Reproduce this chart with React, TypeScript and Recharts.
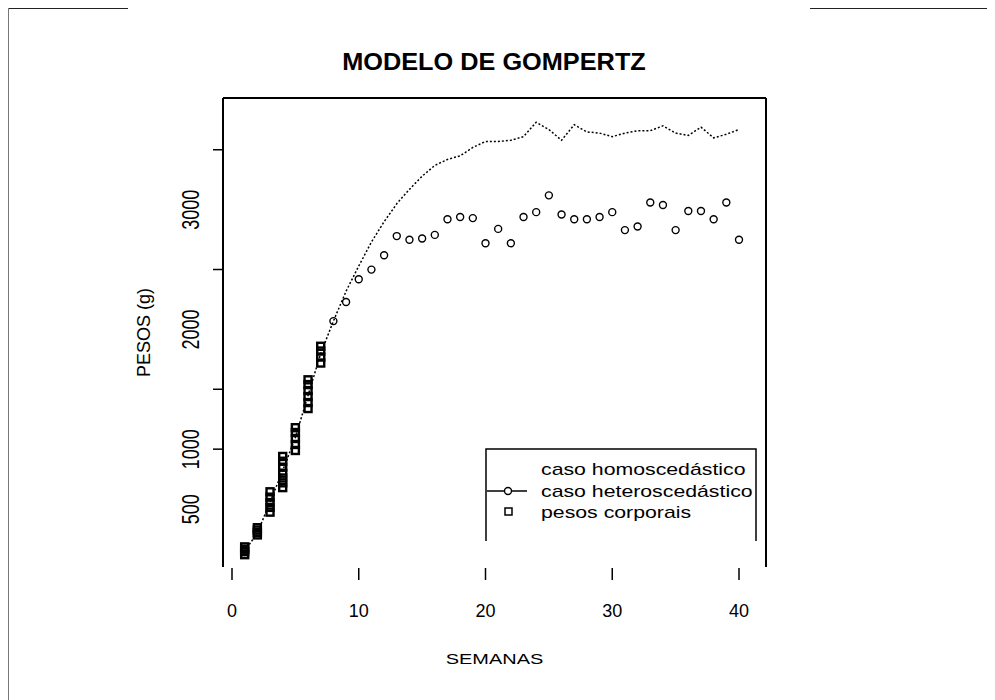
import { ComposedChart, Line, Scatter, XAxis, YAxis, ReferenceLine, Legend } from "recharts";

// semanas 1..40 e pesos (g)
const WEEKS = [1, 2, 3, 4, 5, 6, 7, 8, 9, 10, 11, 12, 13, 14, 15, 16, 17, 18, 19, 20,
  21, 22, 23, 24, 25, 26, 27, 28, 29, 30, 31, 32, 33, 34, 35, 36, 37, 38, 39, 40];
const HOMO_WEIGHTS = [150, 300, 560, 820, 1100, 1450, 1800, 2070, 2320, 2530, 2730, 2900, 3050, 3170, 3280, 3370, 3420, 3450, 3520, 3570,
  3570, 3580, 3610, 3730, 3670, 3580, 3710, 3650, 3640, 3610, 3640, 3660, 3660, 3700, 3640, 3620, 3690, 3600, 3630, 3670];

const HETERO_WEEKS = [8, 9, 10, 11, 12, 13, 14, 15, 16, 17, 18, 19, 20, 21, 22, 23, 24,
  25, 26, 27, 28, 29, 30, 31, 32, 33, 34, 35, 36, 37, 38, 39, 40];
const HETERO_WEIGHTS = [2070, 2230, 2420, 2500, 2620, 2780, 2750, 2760, 2790, 2920, 2940, 2930, 2720, 2840, 2720, 2940, 2980,
  3120, 2960, 2920, 2920, 2940, 2980, 2830, 2860, 3060, 3040, 2830, 2990, 2990, 2920, 3060, 2750];

const BODY_WEEKS = [1, 1, 1, 1, 2, 2, 2, 2, 3, 3, 3, 3, 3, 4, 4, 4, 4, 4, 4, 4,
  5, 5, 5, 5, 5, 6, 6, 6, 6, 6, 6, 7, 7, 7, 7];
const BODY_WEIGHTS = [120, 145, 165, 185, 285, 305, 325, 345, 475, 515, 555, 600, 645, 680, 720, 760, 800, 850, 900, 940,
  990, 1040, 1090, 1140, 1180, 1340, 1390, 1440, 1490, 1540, 1580, 1720, 1770, 1820, 1860];

const X_TICKS = [0, 10, 20, 30, 40];
const Y_TICKS = [500, 1000, 2000, 3000];
const X_DOMAIN: [number, number] = [-0.71, 42.13];
const Y_DOMAIN: [number, number] = [17, 3933];

const TITLE = "MODELO DE GOMPERTZ";
const X_LABEL = "SEMANAS";
const Y_LABEL = "PESOS (g)";
const LEGEND_LABELS = ["caso homoscedástico", "caso heteroscedástico", "pesos corporais"];

const FONT = "'Liberation Sans', Arial, sans-serif";

const homoData = WEEKS.map((w, i) => ({ x: w, y: HOMO_WEIGHTS[i] }));
const heteroData = HETERO_WEEKS.map((w, i) => ({ x: w, y: HETERO_WEIGHTS[i] }));
const bodyData = BODY_WEEKS.map((w, i) => ({ x: w, y: BODY_WEIGHTS[i] }));

const XTick = (props: any) => {
  const { x, y, payload } = props;
  return (
    <g>
      <line x1={x} x2={x} y1={y + 1} y2={y + 13} stroke="#000" strokeWidth={1.5} />
      <text x={x} y={y + 50} textAnchor="middle" fontSize={18} fontFamily={FONT} fill="#000">
        {payload.value}
      </text>
    </g>
  );
};

// no original as marcas ficam ~60px acima dos rótulos
const YTick = (props: any) => {
  const { x, y, payload } = props;
  return (
    <g>
      <line x1={x - 10} x2={x} y1={y - 60} y2={y - 60} stroke="#000" strokeWidth={1.5} />
      <text
        transform={`translate(${x - 24},${y}) scale(1.3,1) rotate(-90)`}
        textAnchor="middle"
        fontSize={18}
        fontFamily={FONT}
        fill="#000"
      >
        {payload.value}
      </text>
    </g>
  );
};

const Square = (props: any) => (
  <rect x={props.cx - 3.5} y={props.cy - 3.5} width={7} height={7} fill="none" stroke="#000" strokeWidth={2.4} />
);
const Circle = (props: any) => (
  <circle cx={props.cx} cy={props.cy} r={3.5} fill="none" stroke="#000" strokeWidth={1.4} />
);

const LegendBox = () => (
  <svg width={272} height={95} style={{ display: "block", overflow: "visible" }}>
    <polyline points="1,93 1,1 271,1 271,93" fill="none" stroke="#000" strokeWidth={1.5} />
    <line x1={2} x2={42} y1={43} y2={43} stroke="#000" strokeWidth={1.5} />
    <circle cx={23} cy={43} r={3.5} fill="#fff" stroke="#000" strokeWidth={1.4} />
    <rect x={20} y={60} width={7} height={7} fill="none" stroke="#000" strokeWidth={1.5} />
    {LEGEND_LABELS.map((t, i) => (
      <text
        key={t}
        transform={`translate(56,${27 + i * 21.5}) scale(1.33,1)`}
        fontSize={16}
        fontFamily={FONT}
        fill="#000"
      >
        {t}
      </text>
    ))}
  </svg>
);

export default function App() {
  return (
    <div style={{ position: "relative", width: 987, height: 693, marginTop: -1, background: "#fff" }}>
      <div
        style={{
          position: "absolute",
          left: 486,
          top: 41,
          transform: "translateX(-50%) scaleX(1.1)",
          fontFamily: FONT,
          fontWeight: "bold",
          fontSize: 23,
          lineHeight: "28px",
          whiteSpace: "nowrap",
          color: "#000",
        }}
      >
        {TITLE}
      </div>
      <ComposedChart width={987} height={693} margin={{ top: 91, right: 229, bottom: 132, left: 214 }}>
        <XAxis
          dataKey="x"
          type="number"
          domain={X_DOMAIN}
          ticks={X_TICKS}
          interval={0}
          allowDataOverflow
          axisLine={false}
          tickLine={false}
          tickSize={0}
          tickMargin={0}
          height={1}
          tick={XTick}
          label={{
            content: (p: any) => (
              <text
                transform={`translate(${p.viewBox.x + p.viewBox.width / 2},${p.viewBox.y + 97}) scale(1.33,1)`}
                textAnchor="middle"
                fontSize={15}
                fontFamily={FONT}
                fill="#000"
              >
                {X_LABEL}
              </text>
            ),
          }}
        />
        <YAxis
          type="number"
          domain={Y_DOMAIN}
          ticks={Y_TICKS}
          interval={0}
          allowDataOverflow
          axisLine={false}
          tickLine={false}
          tickSize={0}
          tickMargin={0}
          width={1}
          tick={YTick}
          label={{
            content: (p: any) => (
              <text
                transform={`translate(${p.viewBox.x - 72},${p.viewBox.y + p.viewBox.height / 2}) rotate(-90)`}
                textAnchor="middle"
                fontSize={18}
                fontFamily={FONT}
                fill="#000"
              >
                {Y_LABEL}
              </text>
            ),
          }}
        />
        <ReferenceLine x={X_DOMAIN[0]} stroke="#000" strokeWidth={2} ifOverflow="visible" />
        <ReferenceLine x={X_DOMAIN[1]} stroke="#000" strokeWidth={2} ifOverflow="visible" />
        <ReferenceLine y={Y_DOMAIN[1]} stroke="#000" strokeWidth={2} ifOverflow="visible" />
        <Legend
          layout="horizontal"
          verticalAlign="middle"
          align="center"
          content={() => <LegendBox />}
          wrapperStyle={{ left: 477, top: 441, width: 272, height: 95 }}
        />
        <Scatter name={LEGEND_LABELS[2]} data={bodyData} dataKey="y" shape={Square} isAnimationActive={false} />
        <Line
          name={LEGEND_LABELS[0]}
          data={homoData}
          dataKey="y"
          type="linear"
          stroke="#000"
          strokeWidth={1.5}
          strokeDasharray="2 2"
          dot={false}
          isAnimationActive={false}
        />
        <Scatter name={LEGEND_LABELS[1]} data={heteroData} dataKey="y" shape={Circle} isAnimationActive={false} />
      </ComposedChart>
      {/* moldura da página */}
      <div style={{ position: "absolute", zIndex: 5, left: 0, top: 0, width: 120, height: 2, background: "#222" }} />
      <div style={{ position: "absolute", zIndex: 5, left: 120, top: 0, width: 682, height: 1, background: "#bbb" }} />
      <div style={{ position: "absolute", zIndex: 5, left: 802, top: 0, width: 185, height: 2, background: "#222" }} />
      <div style={{ position: "absolute", zIndex: 5, left: 0, top: 0, width: 1, height: 693, background: "#777" }} />
    </div>
  );
}
